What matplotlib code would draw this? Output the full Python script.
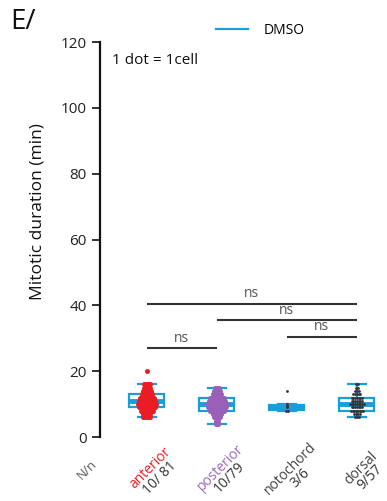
import numpy as np
import matplotlib
matplotlib.use("Agg")
import matplotlib.pyplot as plt
from matplotlib.lines import Line2D

plt.rcParams['font.family'] = ['Open Sans', 'DejaVu Sans']

# mitotic duration (min), one value per cell, stored as value -> count
categories = ["anterior", "posterior", "notochord", "dorsal"]
counts_labels = ["10/ 81", "10/79", "3/6", "9/57"]
anterior_vals = [6, 7, 8, 9, 10, 11, 12, 13, 14, 15, 16, 20]
anterior_cnt = [5, 5, 8, 10, 12, 10, 9, 7, 6, 4, 4, 1]
posterior_vals = [4, 5, 6, 7, 8, 9, 10, 11, 12, 13, 14, 15]
posterior_cnt = [2, 2, 4, 6, 9, 12, 12, 10, 9, 6, 4, 3]
notochord_vals = [8, 9, 9.5, 10, 14]
notochord_cnt = [2, 1, 1, 1, 1]
dorsal_vals = [6, 7, 8, 9, 10, 11, 12, 13, 14, 15, 16]
dorsal_cnt = [3, 4, 8, 7, 9, 7, 7, 5, 3, 2, 2]

# significance comparisons (i, j, height)
comparisons = [(0, 1, 27), (2, 3, 30.5), (1, 3, 35.5), (0, 3, 40.5)]
sig_labels = ["ns", "ns", "ns", "ns"]

box_color = "#1b9dd9"
dot_colors = ["#ec1c24", "#9a5fb6", "#333333", "#333333"]
dot_sizes = [13, 13, 4, 4]
label_colors = ["#ec1c24", "#9a68b8", "#444444", "#444444"]

groups = [(anterior_vals, anterior_cnt), (posterior_vals, posterior_cnt),
          (notochord_vals, notochord_cnt), (dorsal_vals, dorsal_cnt)]
data = [np.repeat(v, c) for v, c in groups]
positions = np.arange(1, len(categories) + 1)

fig = plt.figure(figsize=(3.87, 5.01), dpi=100)
ax = fig.add_axes([0.2584, 0.1277, 0.7235, 0.7884])

ax.boxplot(data, positions=positions, widths=0.5, showfliers=False,
           patch_artist=True, whis=1.5,
           boxprops=dict(facecolor="white", edgecolor=box_color, linewidth=1.6),
           medianprops=dict(color=box_color, linewidth=3.5),
           whiskerprops=dict(color=box_color, linewidth=1.6),
           capprops=dict(color=box_color, linewidth=1.6),
           capwidths=0.25, zorder=2)

# swarm-like dots
for k, (vals, cnts) in enumerate(groups):
    xs, ys = [], []
    for v, n in zip(vals, cnts):
        half = min(0.13, 0.025 * (n - 1) / 2)
        offs = np.linspace(-half, half, n) if n > 1 else np.array([0.0])
        xs.extend(positions[k] + offs)
        ys.extend([v] * n)
    ax.scatter(xs, ys, s=dot_sizes[k], color=dot_colors[k], zorder=3,
               linewidths=0)

# significance bars
for (i, j, h), lab in zip(comparisons, sig_labels):
    ax.plot([positions[i], positions[j]], [h, h], color="#333333", lw=1.5,
            solid_capstyle="butt")
    ax.text((positions[i] + positions[j]) / 2, h + 0.8, lab, ha="center",
            va="bottom", fontsize=10, color="#555555")

ax.set_xlim(0.33, 4.33)
ax.set_ylim(0, 120)
ax.set_yticks([0, 20, 40, 60, 80, 100, 120])
ax.tick_params(axis="y", labelsize=11, length=6, width=1.3, colors="#222222")
ax.set_xticks([])
for s in ["top", "right", "bottom"]:
    ax.spines[s].set_visible(False)
ax.spines["left"].set_linewidth(1.6)
ax.spines["left"].set_color("#111111")

# rotated category labels: coloured name, dark N/n line beneath it
trans = ax.get_xaxis_transform()
for k, (cat, cl) in enumerate(zip(categories, counts_labels)):
    ax.text(positions[k] + 0.054, -0.079, cat, transform=trans,
            rotation=45, rotation_mode="anchor", ha="center", va="center",
            fontsize=10, color=label_colors[k], clip_on=False)
    ax.text(positions[k] + 0.186, -0.103, cl, transform=trans,
            rotation=45, rotation_mode="anchor", ha="center", va="center",
            fontsize=10, color="#333333", clip_on=False)
ax.text(0.144, -0.084, "N/n", transform=trans, rotation=45,
        rotation_mode="anchor", ha="center", va="center", fontsize=9,
        color="#555555", clip_on=False)

ax.text(0.043, 0.954, "1 dot = 1cell", transform=ax.transAxes, ha="left",
        va="center", fontsize=11, color="#111111")

fig.text(38 / 387, 1 - 212 / 501, "Mitotic duration (min)", rotation=90,
         ha="center", va="center", fontsize=12.5, color="#111111")
fig.text(10 / 387, 1 - 22 / 501, "E/", ha="left", va="center", fontsize=20,
         color="#111111")

handle = Line2D([], [], color=box_color, lw=1.6)
fig.legend([handle], ["DMSO"], loc="center left",
           bbox_to_anchor=(216 / 387, 1 - 30 / 501), frameon=False,
           fontsize=10, handlelength=2.3, handletextpad=1.1, borderpad=0,
           borderaxespad=0)

fig.savefig("out.png", dpi=100)
